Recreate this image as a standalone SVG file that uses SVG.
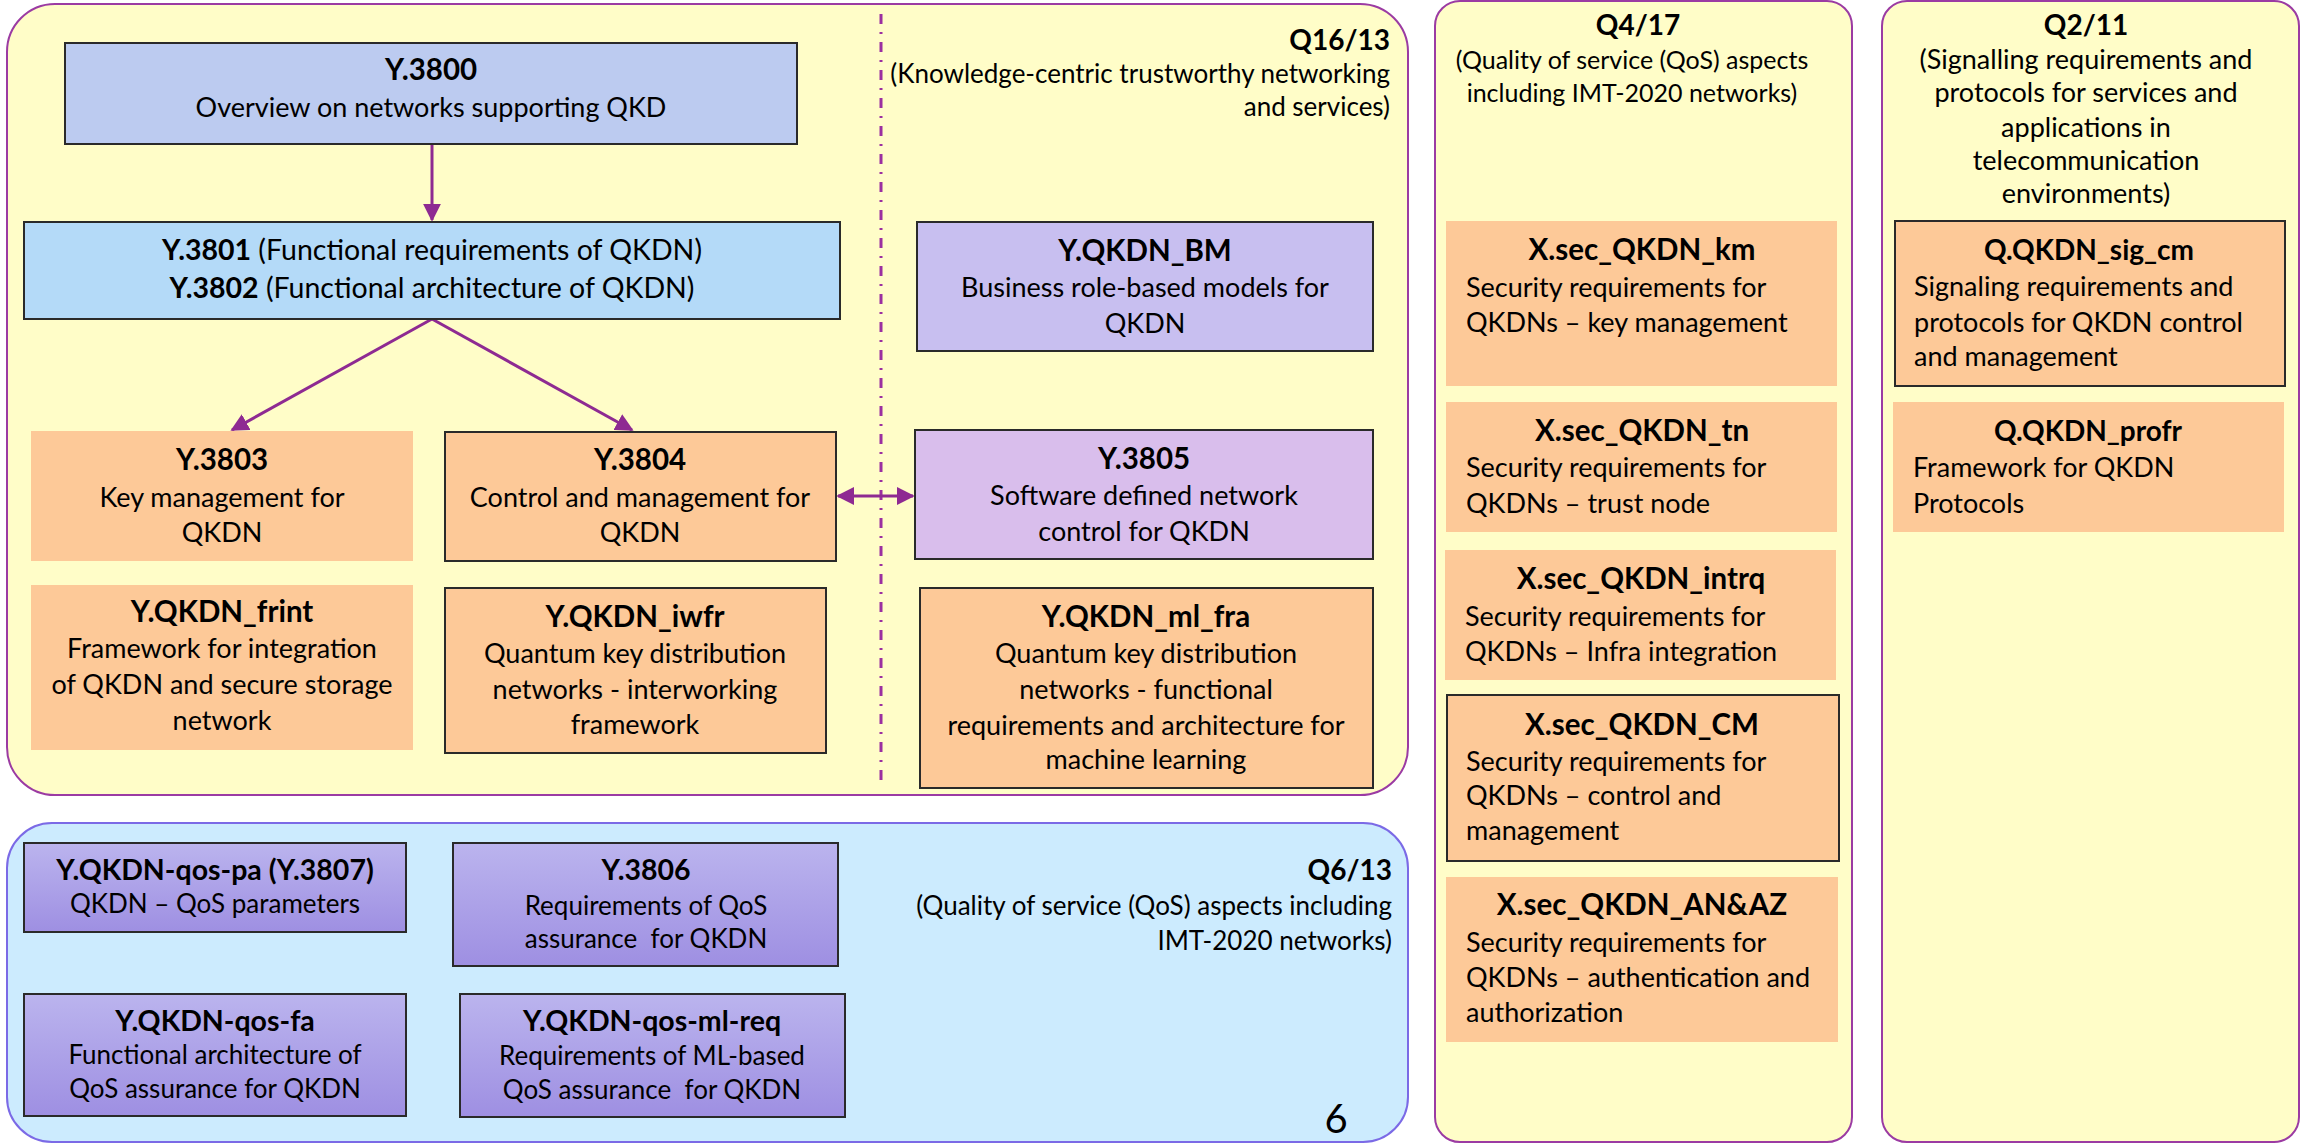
<svg xmlns="http://www.w3.org/2000/svg" width="2305" height="1143" viewBox="0 0 2305 1143">
  <defs>
    <style>
      text { font-family: Lato, "Liberation Sans", sans-serif; font-size: 27px; fill: #000; }
      .c { text-anchor: middle; }
      .r { text-anchor: end; }
      .bold { font-weight: bold; }
      .ttl { font-weight: bold; font-size: 29.5px; }
      .hdr { font-size: 26px; }
      .hdr-t { font-weight: bold; font-size: 28px; }
      .q6 { font-size: 26px; }
      .q6-t { font-weight: bold; font-size: 28.5px; }
      .grp-y { fill: #FFFDC8; stroke: #9B3BA3; stroke-width: 2; }
      .grp-b { fill: #CCEBFE; stroke: #7B6AE6; stroke-width: 2; }
      .peach { fill: #FDC998; }
      .edge { stroke: #2A2A2A; stroke-width: 2; }
      .conn { stroke: #8E2A92; stroke-width: 3; fill: none; }
      .divider { stroke: #9B2FA0; stroke-width: 3; stroke-dasharray: 10 8 2 8; fill: none; }
    </style>
    <linearGradient id="qos" x1="0" y1="0" x2="0" y2="1">
      <stop offset="0" stop-color="#BBB4EE"/>
      <stop offset="1" stop-color="#9E8FE2"/>
    </linearGradient>
    <marker id="head" viewBox="0 0 10 10" refX="9" refY="5" markerWidth="6" markerHeight="6" orient="auto-start-reverse" markerUnits="strokeWidth">
      <path d="M0,0 L10,5 L0,10 Z" fill="#8E2A92"/>
    </marker>
  </defs>

  <!-- Study group containers -->
  <g id="q16-13">
    <rect class="grp-y" x="7" y="4" width="1401" height="791" rx="48" ry="48"/>
    <text class="r hdr-t" x="1390" y="50">Q16/13</text>
    <text class="r hdr" x="1390" y="83">(Knowledge-centric trustworthy networking</text>
    <text class="r hdr" x="1390" y="116">and services)</text>
  </g>
  <g id="q6-13">
    <rect class="grp-b" x="7" y="823" width="1401" height="319" rx="45" ry="45"/>
    <text class="r hdr-t" x="1392" y="880">Q6/13</text>
    <text class="r hdr" x="1392" y="915">(Quality of service (QoS) aspects including</text>
    <text class="r hdr" x="1392" y="950">IMT-2020 networks)</text>
    <text class="c" x="1336" y="1133" style="font-size:40px">6</text>
  </g>
  <g id="q4-17">
    <rect class="grp-y" x="1435" y="1" width="417" height="1141" rx="25" ry="25"/>
    <text class="c hdr-t" x="1638" y="35">Q4/17</text>
    <text class="c" x="1632" y="69" style="font-size:25px">(Quality of service (QoS) aspects</text>
    <text class="c" x="1632" y="102" style="font-size:25px">including IMT-2020 networks)</text>
  </g>
  <g id="q2-11">
    <rect class="grp-y" x="1882" y="1" width="417" height="1141" rx="25" ry="25"/>
    <text class="c hdr-t" x="2086" y="35">Q2/11</text>
    <text class="c" x="2086" y="69">(Signalling requirements and</text>
    <text class="c" x="2086" y="102">protocols for services and</text>
    <text class="c" x="2086" y="137">applications in</text>
    <text class="c" x="2086" y="170">telecommunication</text>
    <text class="c" x="2086" y="203">environments)</text>
  </g>

  <!-- Connectors and divider -->
  <g id="connectors">
    <line class="divider" x1="881" y1="14" x2="881" y2="782"/>
    <line class="conn" x1="432" y1="144" x2="432" y2="220" marker-end="url(#head)"/>
    <line class="conn" x1="432" y1="319" x2="232" y2="430" marker-end="url(#head)"/>
    <line class="conn" x1="432" y1="319" x2="632" y2="430" marker-end="url(#head)"/>
    <line class="conn" x1="838" y1="496" x2="913" y2="496" marker-start="url(#head)" marker-end="url(#head)"/>
  </g>

  <!-- Q16/13 recommendations -->
  <g id="y3800">
    <rect class="edge" x="65" y="43" width="732" height="101" fill="#BCCBF0"/>
    <text class="c ttl" x="431" y="80">Y.3800</text>
    <text class="c" x="431" y="117">Overview on networks supporting QKD</text>
  </g>
  <g id="y3801-3802">
    <rect class="edge" x="24" y="222" width="816" height="97" fill="#B4DAF8"/>
    <text class="c" x="432" y="260" style="font-size:28.5px"><tspan class="bold">Y.3801</tspan> (Functional requirements of QKDN)</text>
    <text class="c" x="432" y="298" style="font-size:28.5px"><tspan class="bold">Y.3802</tspan> (Functional architecture of QKDN)</text>
  </g>
  <g id="y3803">
    <rect class="peach" x="31" y="431" width="382" height="130"/>
    <text class="c ttl" x="222" y="470">Y.3803</text>
    <text class="c" x="222" y="507">Key management for</text>
    <text class="c" x="222" y="542">QKDN</text>
  </g>
  <g id="y3804">
    <rect class="peach edge" x="445" y="432" width="391" height="129"/>
    <text class="c ttl" x="640" y="470">Y.3804</text>
    <text class="c" x="640" y="507">Control and management for</text>
    <text class="c" x="640" y="542">QKDN</text>
  </g>
  <g id="y-qkdn-frint">
    <rect class="peach" x="31" y="585" width="382" height="165"/>
    <text class="c ttl" x="222" y="622">Y.QKDN_frint</text>
    <text class="c" x="222" y="658">Framework for integration</text>
    <text class="c" x="222" y="694">of QKDN and secure storage</text>
    <text class="c" x="222" y="730">network</text>
  </g>
  <g id="y-qkdn-iwfr">
    <rect class="peach edge" x="445" y="588" width="381" height="165"/>
    <text class="c ttl" x="635" y="627">Y.QKDN_iwfr</text>
    <text class="c" x="635" y="663">Quantum key distribution</text>
    <text class="c" x="635" y="699">networks - interworking</text>
    <text class="c" x="635" y="734">framework</text>
  </g>
  <g id="y-qkdn-bm">
    <rect class="edge" x="917" y="222" width="456" height="129" fill="#C8BFF0"/>
    <text class="c ttl" x="1145" y="261">Y.QKDN_BM</text>
    <text class="c" x="1145" y="297">Business role-based models for</text>
    <text class="c" x="1145" y="333">QKDN</text>
  </g>
  <g id="y3805">
    <rect class="edge" x="915" y="430" width="458" height="129" fill="#D9BEEC"/>
    <text class="c ttl" x="1144" y="469">Y.3805</text>
    <text class="c" x="1144" y="505">Software defined network</text>
    <text class="c" x="1144" y="541">control for QKDN</text>
  </g>
  <g id="y-qkdn-ml-fra">
    <rect class="peach edge" x="920" y="588" width="453" height="200"/>
    <text class="c ttl" x="1146" y="627">Y.QKDN_ml_fra</text>
    <text class="c" x="1146" y="663">Quantum key distribution</text>
    <text class="c" x="1146" y="699">networks - functional</text>
    <text class="c" x="1146" y="735">requirements and architecture for</text>
    <text class="c" x="1146" y="769">machine learning</text>
  </g>

  <!-- Q6/13 recommendations -->
  <g id="y-qkdn-qos-pa">
    <rect class="edge" x="24" y="843" width="382" height="89" fill="url(#qos)"/>
    <text class="c q6-t" x="215" y="880">Y.QKDN-qos-pa (Y.3807)</text>
    <text class="c q6" x="215" y="913">QKDN – QoS parameters</text>
  </g>
  <g id="y3806">
    <rect class="edge" x="453" y="843" width="385" height="123" fill="url(#qos)"/>
    <text class="c q6-t" x="646" y="880">Y.3806</text>
    <text class="c q6" x="646" y="915">Requirements of QoS</text>
    <text class="c q6" x="646" y="948" xml:space="preserve">assurance  for QKDN</text>
  </g>
  <g id="y-qkdn-qos-fa">
    <rect class="edge" x="24" y="994" width="382" height="122" fill="url(#qos)"/>
    <text class="c q6-t" x="215" y="1031">Y.QKDN-qos-fa</text>
    <text class="c q6" x="215" y="1064">Functional architecture of</text>
    <text class="c q6" x="215" y="1098">QoS assurance for QKDN</text>
  </g>
  <g id="y-qkdn-qos-ml-req">
    <rect class="edge" x="460" y="994" width="385" height="123" fill="url(#qos)"/>
    <text class="c q6-t" x="652" y="1031">Y.QKDN-qos-ml-req</text>
    <text class="c q6" x="652" y="1065">Requirements of ML-based</text>
    <text class="c q6" x="652" y="1099" xml:space="preserve">QoS assurance  for QKDN</text>
  </g>

  <!-- Q4/17 recommendations -->
  <g id="x-sec-qkdn-km">
    <rect class="peach" x="1446" y="221" width="391" height="165"/>
    <text class="c ttl" x="1642" y="260">X.sec_QKDN_km</text>
    <text x="1466" y="297">Security requirements for</text>
    <text x="1466" y="332">QKDNs – key management</text>
  </g>
  <g id="x-sec-qkdn-tn">
    <rect class="peach" x="1446" y="402" width="391" height="130"/>
    <text class="c ttl" x="1642" y="441">X.sec_QKDN_tn</text>
    <text x="1466" y="477">Security requirements for</text>
    <text x="1466" y="513">QKDNs – trust node</text>
  </g>
  <g id="x-sec-qkdn-intrq">
    <rect class="peach" x="1445" y="550" width="391" height="130"/>
    <text class="c ttl" x="1641" y="589">X.sec_QKDN_intrq</text>
    <text x="1465" y="626">Security requirements for</text>
    <text x="1465" y="661">QKDNs – Infra integration</text>
  </g>
  <g id="x-sec-qkdn-cm">
    <rect class="peach edge" x="1447" y="695" width="392" height="166"/>
    <text class="c ttl" x="1642" y="735">X.sec_QKDN_CM</text>
    <text x="1466" y="771">Security requirements for</text>
    <text x="1466" y="805">QKDNs – control and</text>
    <text x="1466" y="840">management</text>
  </g>
  <g id="x-sec-qkdn-an-az">
    <rect class="peach" x="1446" y="877" width="392" height="165"/>
    <text class="c ttl" x="1642" y="915">X.sec_QKDN_AN&amp;AZ</text>
    <text x="1466" y="952">Security requirements for</text>
    <text x="1466" y="987">QKDNs – authentication and</text>
    <text x="1466" y="1022">authorization</text>
  </g>

  <!-- Q2/11 recommendations -->
  <g id="q-qkdn-sig-cm">
    <rect class="peach edge" x="1895" y="221" width="390" height="165"/>
    <text class="c bold" x="2089" y="260" style="font-size:28px">Q.QKDN_sig_cm</text>
    <text x="1914" y="296">Signaling requirements and</text>
    <text x="1914" y="332">protocols for QKDN control</text>
    <text x="1914" y="366">and management</text>
  </g>
  <g id="q-qkdn-profr">
    <rect class="peach" x="1893" y="402" width="391" height="130"/>
    <text class="c bold" x="2088" y="441" style="font-size:28px">Q.QKDN_profr</text>
    <text x="1913" y="477">Framework for QKDN</text>
    <text x="1913" y="513">Protocols</text>
  </g>
</svg>
